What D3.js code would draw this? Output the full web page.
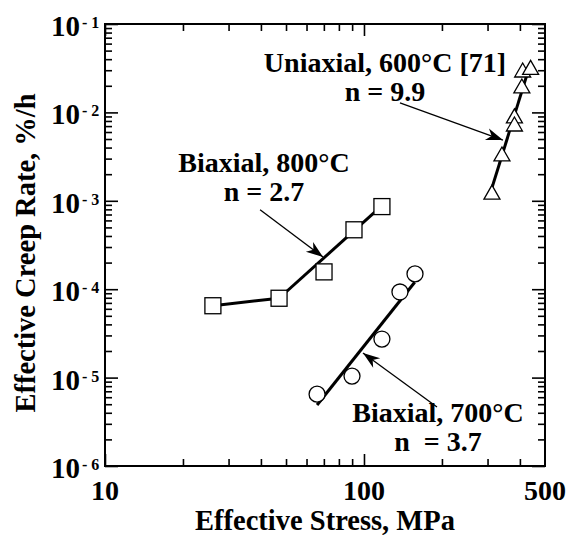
<html>
<head>
    <script src="https://cdn.jsdelivr.net/npm/d3@7"></script>
    <style>
        body { margin: 0; background: #fff; }
        text { font-family: "Liberation Serif", "Times New Roman", serif; font-weight: bold; fill: #000; }
    </style>
</head>
<body>
    <svg id="svg" width="568" height="540"></svg>
    <script>
        // DATA (stress in MPa, creep rate in %/h)
        const biax800Stress = [26.1, 47.0, 70.1, 91.5, 117.3]
        const biax800Rate = [6.5e-5, 7.9e-5, 1.57e-4, 4.7e-4, 8.6e-4]
        const biax700Stress = [65.9, 89.9, 117.3, 137.7, 157.4]
        const biax700Rate = [6.5e-6, 1.04e-5, 2.73e-5, 9.3e-5, 1.49e-4]
        const uni600Stress = [312, 341, 381, 381, 407, 410, 440]
        const uni600Rate = [1.22e-3, 3.3e-3, 8.9e-3, 7.2e-3, 1.94e-2, 2.94e-2, 3.15e-2]

        // fitted / joining lines
        const line800a = [[26.1, 6.5e-5], [47.0, 7.9e-5]]
        const line800b = [[47.0, 7.9e-5], [117.3, 8.8e-4]]
        const line700 = [[65.9, 4.9e-6], [157, 1.2e-4]]
        const line600 = [[312, 1.4e-3], [437, 3.4e-2]]

        // annotations: [from, tip]
        const arrows = [
            [[39.7, 7.9e-4], [69.5, 2.31e-4]],
            [[191.4, 4.65e-6], [99.1, 1.9e-5]],
            [[137.7, 1.28e-2], [344, 4.87e-3]]
        ]
        const labels = [
            { x: 41.1, y: 2.12e-3, lines: ["Biaxial, 800°C", "n = 2.7"] },
            { x: 120.5, y: 2.86e-2, lines: ["Uniaxial, 600°C [71]", "n = 9.9"] },
            { x: 193, y: 3.15e-6, lines: ["Biaxial, 700°C", "n\u00a0 = 3.7"] }
        ]

        // ticks
        const xMajor = [10, 100]
        const xMinor = [20, 30, 40, 50, 60, 70, 80, 90, 200, 300, 400]
        const xLabels = [10, 100, 500]
        const yExps = [-6, -5, -4, -3, -2, -1]
        const yMinor = []
        yExps.slice(0, -1).forEach(e => { for (let k = 2; k <= 9; k++) yMinor.push(k * Math.pow(10, e)) })

        // SCALES
        const x = d3.scaleLog().domain([10, 500]).range([105, 545])
        const y = d3.scaleLog().domain([1e-6, 1e-1]).range([466, 24])

        const svg = d3.select("#svg")

        // ticks inward on all four sides
        const tickGroup = (axis, transform) => {
            const g = svg.append("g").attr("transform", transform).call(axis)
            g.select(".domain").remove()
            g.selectAll("line").attr("stroke", "#000").attr("stroke-width", 1.6)
        }
        tickGroup(d3.axisBottom(x).tickValues(xMajor).tickSize(-12).tickFormat(""), "translate(0,466)")
        tickGroup(d3.axisBottom(x).tickValues(xMinor).tickSize(-7).tickFormat(""), "translate(0,466)")
        tickGroup(d3.axisTop(x).tickValues(xMajor).tickSize(-12).tickFormat(""), "translate(0,24)")
        tickGroup(d3.axisTop(x).tickValues(xMinor).tickSize(-7).tickFormat(""), "translate(0,24)")
        const yMajor = yExps.map(e => Math.pow(10, e))
        tickGroup(d3.axisLeft(y).tickValues(yMajor).tickSize(-13).tickFormat(""), "translate(105,0)")
        tickGroup(d3.axisLeft(y).tickValues(yMinor).tickSize(-7).tickFormat(""), "translate(105,0)")
        tickGroup(d3.axisRight(y).tickValues(yMajor).tickSize(-13).tickFormat(""), "translate(545,0)")
        tickGroup(d3.axisRight(y).tickValues(yMinor).tickSize(-7).tickFormat(""), "translate(545,0)")

        // frame
        svg.append("rect")
            .attr("x", x(10)).attr("y", y(1e-1))
            .attr("width", x(500) - x(10)).attr("height", y(1e-6) - y(1e-1))
            .attr("fill", "none").attr("stroke", "#000").attr("stroke-width", 2)

        // tick labels
        svg.append("g").selectAll("text").data(xLabels).enter().append("text")
            .attr("x", d => x(d)).attr("y", 500)
            .attr("text-anchor", "middle").style("font-size", "28px")
            .text(d => d)
        const yl = svg.append("g").selectAll("g").data(yExps).enter().append("g")
        yl.append("text").attr("x", 80).attr("y", d => y(Math.pow(10, d)) + 12)
            .attr("text-anchor", "end").style("font-size", "29px").text("10")
        yl.append("text").attr("x", 82).attr("y", d => y(Math.pow(10, d)) + 4)
            .style("font-size", "16px").text(d => "- " + (-d))

        // axis titles
        svg.append("text").attr("x", 325).attr("y", 530)
            .attr("text-anchor", "middle").style("font-size", "28.5px")
            .text("Effective Stress, MPa")
        svg.append("text").attr("transform", "translate(35,253) rotate(-90)")
            .attr("text-anchor", "middle").style("font-size", "28.5px")
            .text("Effective Creep Rate, %/h")

        // lines
        const line = d3.line().x(d => x(d[0])).y(d => y(d[1]))
        svg.append("g").selectAll("path").data([line800a, line800b, line700, line600]).enter().append("path")
            .attr("d", line).attr("fill", "none").attr("stroke", "#000").attr("stroke-width", 3)

        // markers
        const mk = svg.append("g").attr("fill", "#fff").attr("stroke", "#000").attr("stroke-width", 1.3)
        mk.selectAll("rect").data(d3.zip(biax800Stress, biax800Rate)).enter().append("rect")
            .attr("x", d => x(d[0]) - 8).attr("y", d => y(d[1]) - 8)
            .attr("width", 16).attr("height", 16)
        mk.selectAll("circle").data(d3.zip(biax700Stress, biax700Rate)).enter().append("circle")
            .attr("cx", d => x(d[0])).attr("cy", d => y(d[1])).attr("r", 8)
        mk.selectAll("path").data(d3.zip(uni600Stress, uni600Rate)).enter().append("path")
            .attr("transform", d => `translate(${x(d[0])},${y(d[1])})`)
            .attr("d", "M0,-8 L8,6 L-8,6 Z")

        // arrows
        svg.append("defs").append("marker")
            .attr("id", "head").attr("markerUnits", "userSpaceOnUse")
            .attr("viewBox", "-18 -7 20 14").attr("markerWidth", 20).attr("markerHeight", 14)
            .attr("refX", 0).attr("refY", 0).attr("orient", "auto")
            .append("path").attr("d", "M0,0 L-17,-6 L-12,0 L-17,6 Z").attr("fill", "#000")
        svg.append("g").selectAll("line").data(arrows).enter().append("line")
            .attr("x1", d => x(d[0][0])).attr("y1", d => y(d[0][1]))
            .attr("x2", d => x(d[1][0])).attr("y2", d => y(d[1][1]))
            .attr("stroke", "#000").attr("stroke-width", 1.3)
            .attr("marker-end", "url(#head)")

        // labels
        const lab = svg.append("g").selectAll("text").data(labels).enter().append("text")
            .attr("text-anchor", "middle").style("font-size", "28px")
        lab.selectAll("tspan").data(d => d.lines.map((t, i) => ({ t, i, d }))).enter().append("tspan")
            .attr("x", p => x(p.d.x))
            .attr("y", p => y(p.d.y) + p.i * 29)
            .text(p => p.t)
    </script>
</body>
</html>
